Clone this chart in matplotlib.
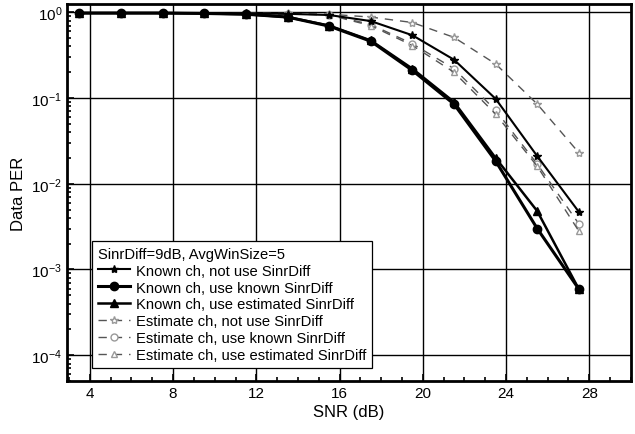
import matplotlib
matplotlib.use("Agg")
import matplotlib.pyplot as plt
from matplotlib.ticker import MultipleLocator, LogLocator, NullFormatter

plt.rcParams['font.family'] = ['Liberation Sans', 'DejaVu Sans']

snr = [3.5, 5.5, 7.5, 9.5, 11.5, 13.5, 15.5, 17.5, 19.5, 21.5, 23.5, 25.5, 27.5]

known_no_sinr = [0.98, 0.98, 0.98, 0.98, 0.97, 0.96, 0.93, 0.79, 0.54, 0.28, 0.098, 0.021, 0.0047]
known_known_sinr = [0.98, 0.98, 0.98, 0.97, 0.95, 0.88, 0.69, 0.46, 0.21, 0.085, 0.0184, 0.0030, 0.00059]
known_est_sinr = [0.98, 0.98, 0.98, 0.97, 0.95, 0.88, 0.70, 0.47, 0.22, 0.09, 0.020, 0.0048, 0.00059]
est_no_sinr = [0.98, 0.98, 0.98, 0.98, 0.98, 0.97, 0.95, 0.88, 0.76, 0.51, 0.25, 0.085, 0.023]
est_known_sinr = [0.98, 0.98, 0.98, 0.98, 0.97, 0.96, 0.94, 0.72, 0.43, 0.22, 0.072, 0.017, 0.0034]
est_est_sinr = [0.98, 0.98, 0.98, 0.98, 0.97, 0.96, 0.93, 0.70, 0.41, 0.20, 0.065, 0.016, 0.0028]

labels = ["Known ch, not use SinrDiff",
          "Known ch, use known SinrDiff",
          "Known ch, use estimated SinrDiff",
          "Estimate ch, not use SinrDiff",
          "Estimate ch, use known SinrDiff",
          "Estimate ch, use estimated SinrDiff"]
legend_title = "SinrDiff=9dB, AvgWinSize=5"
xticks = [4, 8, 12, 16, 20, 24, 28]

fig = plt.figure(figsize=(6.35, 4.35), dpi=100)
ax = fig.add_axes([0.1055, 0.1218, 0.888, 0.8667])

ax.semilogy(snr, known_no_sinr, '-', color='black', lw=1.5, marker='*', ms=6, label=labels[0], zorder=5)
ax.semilogy(snr, known_known_sinr, '-', color='black', lw=2.2, marker='o', ms=6, label=labels[1], zorder=5)
ax.semilogy(snr, known_est_sinr, '-', color='black', lw=1.8, marker='^', ms=6, label=labels[2], zorder=5)
ax.semilogy(snr, est_no_sinr, '--', color='#555555', lw=1.0, dashes=(6, 5), marker='*', ms=6,
            mfc='white', mec='#999999', label=labels[3], zorder=4)
ax.semilogy(snr, est_known_sinr, '--', color='#555555', lw=1.0, dashes=(6, 5), marker='o', ms=5,
            mfc='white', mec='#999999', label=labels[4], zorder=4)
ax.semilogy(snr, est_est_sinr, '--', color='#555555', lw=1.0, dashes=(6, 5), marker='^', ms=5,
            mfc='white', mec='#999999', label=labels[5], zorder=4)

ax.set_xlim(2.9, 30.0)
ax.set_ylim(5e-5, 1.25)
ax.set_xticks(xticks)
ax.xaxis.set_minor_locator(MultipleLocator(1))
ax.yaxis.set_minor_locator(LogLocator(base=10, subs=range(2, 10), numticks=20))
ax.yaxis.set_minor_formatter(NullFormatter())

ax.grid(True, which='major', color='black', lw=1.0)
ax.tick_params(which='both', direction='in', labelsize=11, width=1.2)
ax.tick_params(which='major', length=5)
ax.tick_params(which='minor', length=3)
for s in ax.spines.values():
    s.set_linewidth(2)
    s.set_color('black')

ax.set_xlabel("SNR (dB)", fontsize=12, labelpad=3)
ax.set_ylabel("Data PER", fontsize=12, labelpad=4)

leg = ax.legend(title=legend_title, loc='lower left', bbox_to_anchor=(0.044, 0.034),
                fontsize=10.6, title_fontsize=10.6, frameon=True, fancybox=False,
                labelspacing=0.2, handlelength=2.2, handletextpad=0.4,
                borderpad=0.4, borderaxespad=0.0)
leg._legend_box.align = "left"
leg.get_frame().set_edgecolor('black')
leg.get_frame().set_linewidth(0.9)
leg.get_frame().set_alpha(1)

fig.savefig("out.png", dpi=100)
